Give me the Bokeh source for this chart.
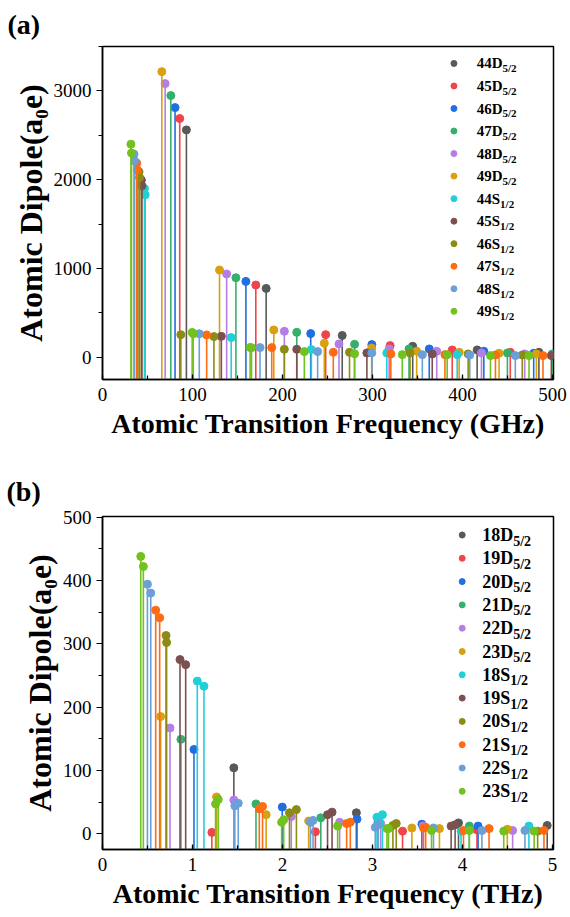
from bokeh.plotting import figure
from bokeh.models import Range1d, Label, SingleIntervalTicker
from bokeh.layouts import column
from bokeh.embed import file_html
from bokeh.resources import INLINE

# ---------------- Panel (a) data: frequency (GHz) and dipole (a0 e) ----------------
A44D_f = [93.2, 181.8, 266.3, 344.6, 416.2, 484.8]
A44D_d = [2561, 776, 246, 124, 83, 56]
A45D_f = [85.8, 170.3, 247.9, 319.5, 388.5, 453.0]
A45D_d = [2689, 814, 255, 132, 83, 56]
A46D_f = [80.6, 159.3, 231.3, 299.2, 363.0, 423.6, 479.0]
A46D_d = [2812, 855, 267, 143, 94, 68, 45]
A47D_f = [75.9, 148.2, 215.8, 280.0, 340.5, 449.8, 499.6]
A47D_d = [2947, 896, 281, 146, 94, 49, 38]
A48D_f = [69.6, 137.9, 202.0, 262.7, 318.4, 371.3, 421.0, 469.0]
A48D_d = [3082, 938, 293, 150, 94, 68, 49, 38]
A49D_f = [65.9, 130.0, 190.3, 246.4, 299.0, 349.0, 396.2, 440.5, 482.0]
A49D_d = [3217, 983, 308, 158, 105, 68, 56, 45, 38]
A44S_f = [46.6, 47.4, 143.0, 232.0, 315.8, 394.0]
A44S_d = [1901, 1830, 222, 87, 49, 30]
A45S_f = [43.2, 43.8, 132.0, 215.8, 293.7, 366.3, 498.6]
A45S_d = [1995, 1931, 236, 90, 49, 38, 19]
A46S_f = [40.6, 41.2, 87.0, 123.8, 202.0, 274.4, 341.6, 406.2, 466.3]
A46S_d = [2089, 2025, 255, 233, 90, 56, 49, 38, 26]
A47S_f = [38.0, 38.6, 115.7, 188.0, 256.4, 320.3, 380.4, 436.5, 489.3]
A47S_d = [2187, 2111, 252, 109, 56, 38, 30, 26, 19]
A48S_f = [35.0, 35.6, 107.5, 175.0, 239.0, 299.2, 355.3, 408.0, 458.6]
A48S_d = [2288, 2213, 265, 109, 64, 50, 30, 26, 19]
A49S_f = [31.6, 32.2, 99.6, 100.8, 164.0, 165.5, 224.2, 280.0, 333.0, 382.9, 431.0, 473.8]
A49S_d = [2400, 2300, 280, 265, 111, 108, 64, 40, 30, 30, 19, 19]

# ---------------- Panel (b) data: frequency (THz) and dipole (a0 e) ----------------
B18D_f = [1.459, 2.820, 3.955, 4.940]
B18D_d = [104, 33, 17, 13]
B19D_f = [1.215, 2.365, 3.333, 4.160]
B19D_d = [2, 3, 4, 6]
B20D_f = [1.016, 1.997, 2.827, 3.548, 4.172]
B20D_d = [133, 42, 23, 15, 12]
B21D_f = [0.871, 1.705, 2.425, 3.060, 4.075]
B21D_d = [149, 47, 25, 18, 12]
B22D_f = [0.750, 1.459, 2.097, 2.634, 3.090, 3.560, 4.556]
B22D_d = [167, 53, 27, 18, 16, 12, 5]
B23D_f = [0.646, 1.267, 1.818, 2.290, 3.437, 3.743, 4.497]
B23D_d = [185, 58, 30, 20, 9, 8, 7]
B18S_f = [1.053, 1.127, 3.049, 3.110, 3.983, 4.737]
B18S_d = [241, 233, 26, 30, 4, 12]
B19S_f = [0.861, 0.924, 2.500, 2.550, 3.873, 3.917]
B19S_d = [275, 267, 30, 34, 12, 14]
B20S_f = [0.706, 0.712, 2.077, 2.154, 3.226, 3.263, 4.834]
B20S_d = [313, 302, 33, 38, 13, 16, 4]
B21S_f = [0.591, 0.635, 1.742, 1.778, 2.712, 2.753, 3.566, 3.590, 4.010, 4.294, 4.904]
B21S_d = [353, 341, 39, 43, 16, 18, 9, 10, 5, 8, 5]
B22S_f = [0.499, 0.536, 1.470, 1.508, 2.310, 2.339, 3.030, 3.060, 3.677, 4.215, 4.693]
B22S_d = [394, 380, 44, 48, 18, 21, 10, 14, 9, 5, 5]
B23S_f = [0.425, 0.454, 1.256, 1.286, 1.990, 2.013, 2.612, 3.160, 3.177, 3.655, 4.075, 4.457, 4.795]
B23S_d = [438, 422, 47, 54, 18, 22, 12, 8, 8, 5, 5, 4, 4]

# ---------------- labels & colours ----------------
names_a = ["44D", "45D", "46D", "47D", "48D", "49D", "44S", "45S", "46S", "47S", "48S", "49S"]
names_b = ["18D", "19D", "20D", "21D", "22D", "23D", "18S", "19S", "20S", "21S", "22S", "23S"]
subs = ["5/2"] * 6 + ["1/2"] * 6
colors = ["#595959", "#f0444a", "#1f6fe0", "#35b06c", "#b57ee6", "#d9a010",
          "#22cfd6", "#7d5050", "#8c8c14", "#ff6a13", "#6a9fd8", "#72c21f"]

series_a = [(A44D_f, A44D_d), (A45D_f, A45D_d), (A46D_f, A46D_d), (A47D_f, A47D_d),
            (A48D_f, A48D_d), (A49D_f, A49D_d), (A44S_f, A44S_d), (A45S_f, A45S_d),
            (A46S_f, A46S_d), (A47S_f, A47S_d), (A48S_f, A48S_d), (A49S_f, A49S_d)]
series_b = [(B18D_f, B18D_d), (B19D_f, B19D_d), (B20D_f, B20D_d), (B21D_f, B21D_d),
            (B22D_f, B22D_d), (B23D_f, B23D_d), (B18S_f, B18S_d), (B19S_f, B19S_d),
            (B20S_f, B20S_d), (B21S_f, B21S_d), (B22S_f, B22S_d), (B23S_f, B23S_d)]

SERIF = "Liberation Serif"
W = 570
# approximate em widths of bold serif glyphs, used to place the subscripts
GLYPH_W = {"D": 0.722, "S": 0.556}


def make_panel(tag, title_standoff, height, border, xr, yr, xint, yint, xtitle, series,
               names, leg, main_fs, sub_fs, sub_dy):
    left, right, top, bottom = border
    p = figure(width=W, height=height, output_backend="svg", toolbar_location=None,
               x_range=Range1d(*xr), y_range=Range1d(*yr),
               min_border_left=left, min_border_right=right,
               min_border_top=top, min_border_bottom=bottom)
    p.background_fill_color = "white"
    p.border_fill_color = "white"
    p.grid.visible = False
    p.outline_line_color = "black"
    p.outline_line_width = 1.5

    # panel tag "(a)" / "(b)" as the figure title, pushed to the left edge
    p.title.text = tag
    p.title.text_font = SERIF
    p.title.text_font_style = "bold"
    p.title.text_font_size = "28px"
    p.title.text_color = "black"
    p.title.align = "left"
    p.title.offset = -(left - 6)
    p.title.standoff = title_standoff

    xa = p.xaxis[0]
    xa.ticker = SingleIntervalTicker(interval=xint, num_minor_ticks=2)
    xa.axis_label = xtitle
    ya = p.yaxis[0]
    ya.ticker = SingleIntervalTicker(interval=yint, num_minor_ticks=2)
    ya.axis_label = "Atomic Dipole(a\u2080e)"
    for ax in (xa, ya):
        ax.axis_line_color = "black"
        ax.axis_line_width = 1.5
        ax.major_tick_line_color = "black"
        ax.minor_tick_line_color = "black"
        ax.major_tick_line_width = 1.2
        ax.minor_tick_line_width = 1.2
        ax.major_label_text_font = SERIF
        ax.major_label_text_font_size = "19px"
        ax.major_label_text_color = "black"
        ax.axis_label_text_font = SERIF
        ax.axis_label_text_font_style = "bold"
        ax.axis_label_text_color = "black"
    xa.major_tick_in = 5
    xa.major_tick_out = 0
    xa.minor_tick_in = 4
    xa.minor_tick_out = 0
    xa.major_label_standoff = 8
    xa.axis_label_text_font_size = "28px"
    xa.axis_label_standoff = 4
    ya.major_tick_in = 0
    ya.major_tick_out = 6
    ya.minor_tick_in = 0
    ya.minor_tick_out = 4
    ya.major_label_standoff = 5
    ya.axis_label_text_font_size = "32px"
    ya.axis_label_standoff = 2

    base = yr[0]
    for (f, d), c in zip(series, colors):
        p.segment(x0=f, y0=[base] * len(f), x1=f, y1=d, line_color=c, line_width=1.6)
        p.scatter(x=f, y=d, size=8, fill_color=c, line_color=c)

    # legend, positioned in pixels and converted to data coordinates
    fw = W - left - right
    fh = height - top - bottom

    def to_data(px, py):
        x = xr[0] + (px - left) / fw * (xr[1] - xr[0])
        y = yr[1] - (py - top) / fh * (yr[1] - yr[0])
        return x, y

    dot_px, txt_px, y0_px, dy_px = leg
    fs = float(main_fs.replace("px", ""))
    for i, (nm, sb, c) in enumerate(zip(names, subs, colors)):
        py = y0_px + i * dy_px
        dx, dy = to_data(dot_px, py)
        p.scatter(x=[dx], y=[dy], size=6, fill_color=c, line_color=c)
        tx, ty = to_data(txt_px, py)
        p.add_layout(Label(x=tx, y=ty, text=nm, text_font=SERIF, text_font_style="bold",
                           text_font_size=main_fs, text_baseline="middle", text_align="left",
                           text_color="black"))
        main_w = (0.5 * (len(nm) - 1) + GLYPH_W[nm[-1]]) * fs
        sx, sy = to_data(txt_px + main_w, py + sub_dy)
        p.add_layout(Label(x=sx, y=sy, text=sb, text_font=SERIF, text_font_style="bold",
                           text_font_size=sub_fs, text_baseline="middle", text_align="left",
                           text_color="black"))
    return p


pa = make_panel("(a)", 13, 458, (101, 16, 45, 79), (0, 501), (-250, 3500), 100, 1000,
                "Atomic Transition Frequency (GHz)", series_a, names_a,
                (454, 477, 62, 22.6), "15px", "11px", 5)
pb = make_panel("(b)", 19, 459, (102, 17, 58, 68), (0, 5.01), (-25, 501), 1, 100,
                "Atomic Transition Frequency (THz)", series_b, names_b,
                (461.7, 481.7, 534.5 - 458, 23.3), "18px", "14px", 6)

layout = column(pa, pb, spacing=0)
open("out.html", "w").write(file_html(layout, INLINE))
